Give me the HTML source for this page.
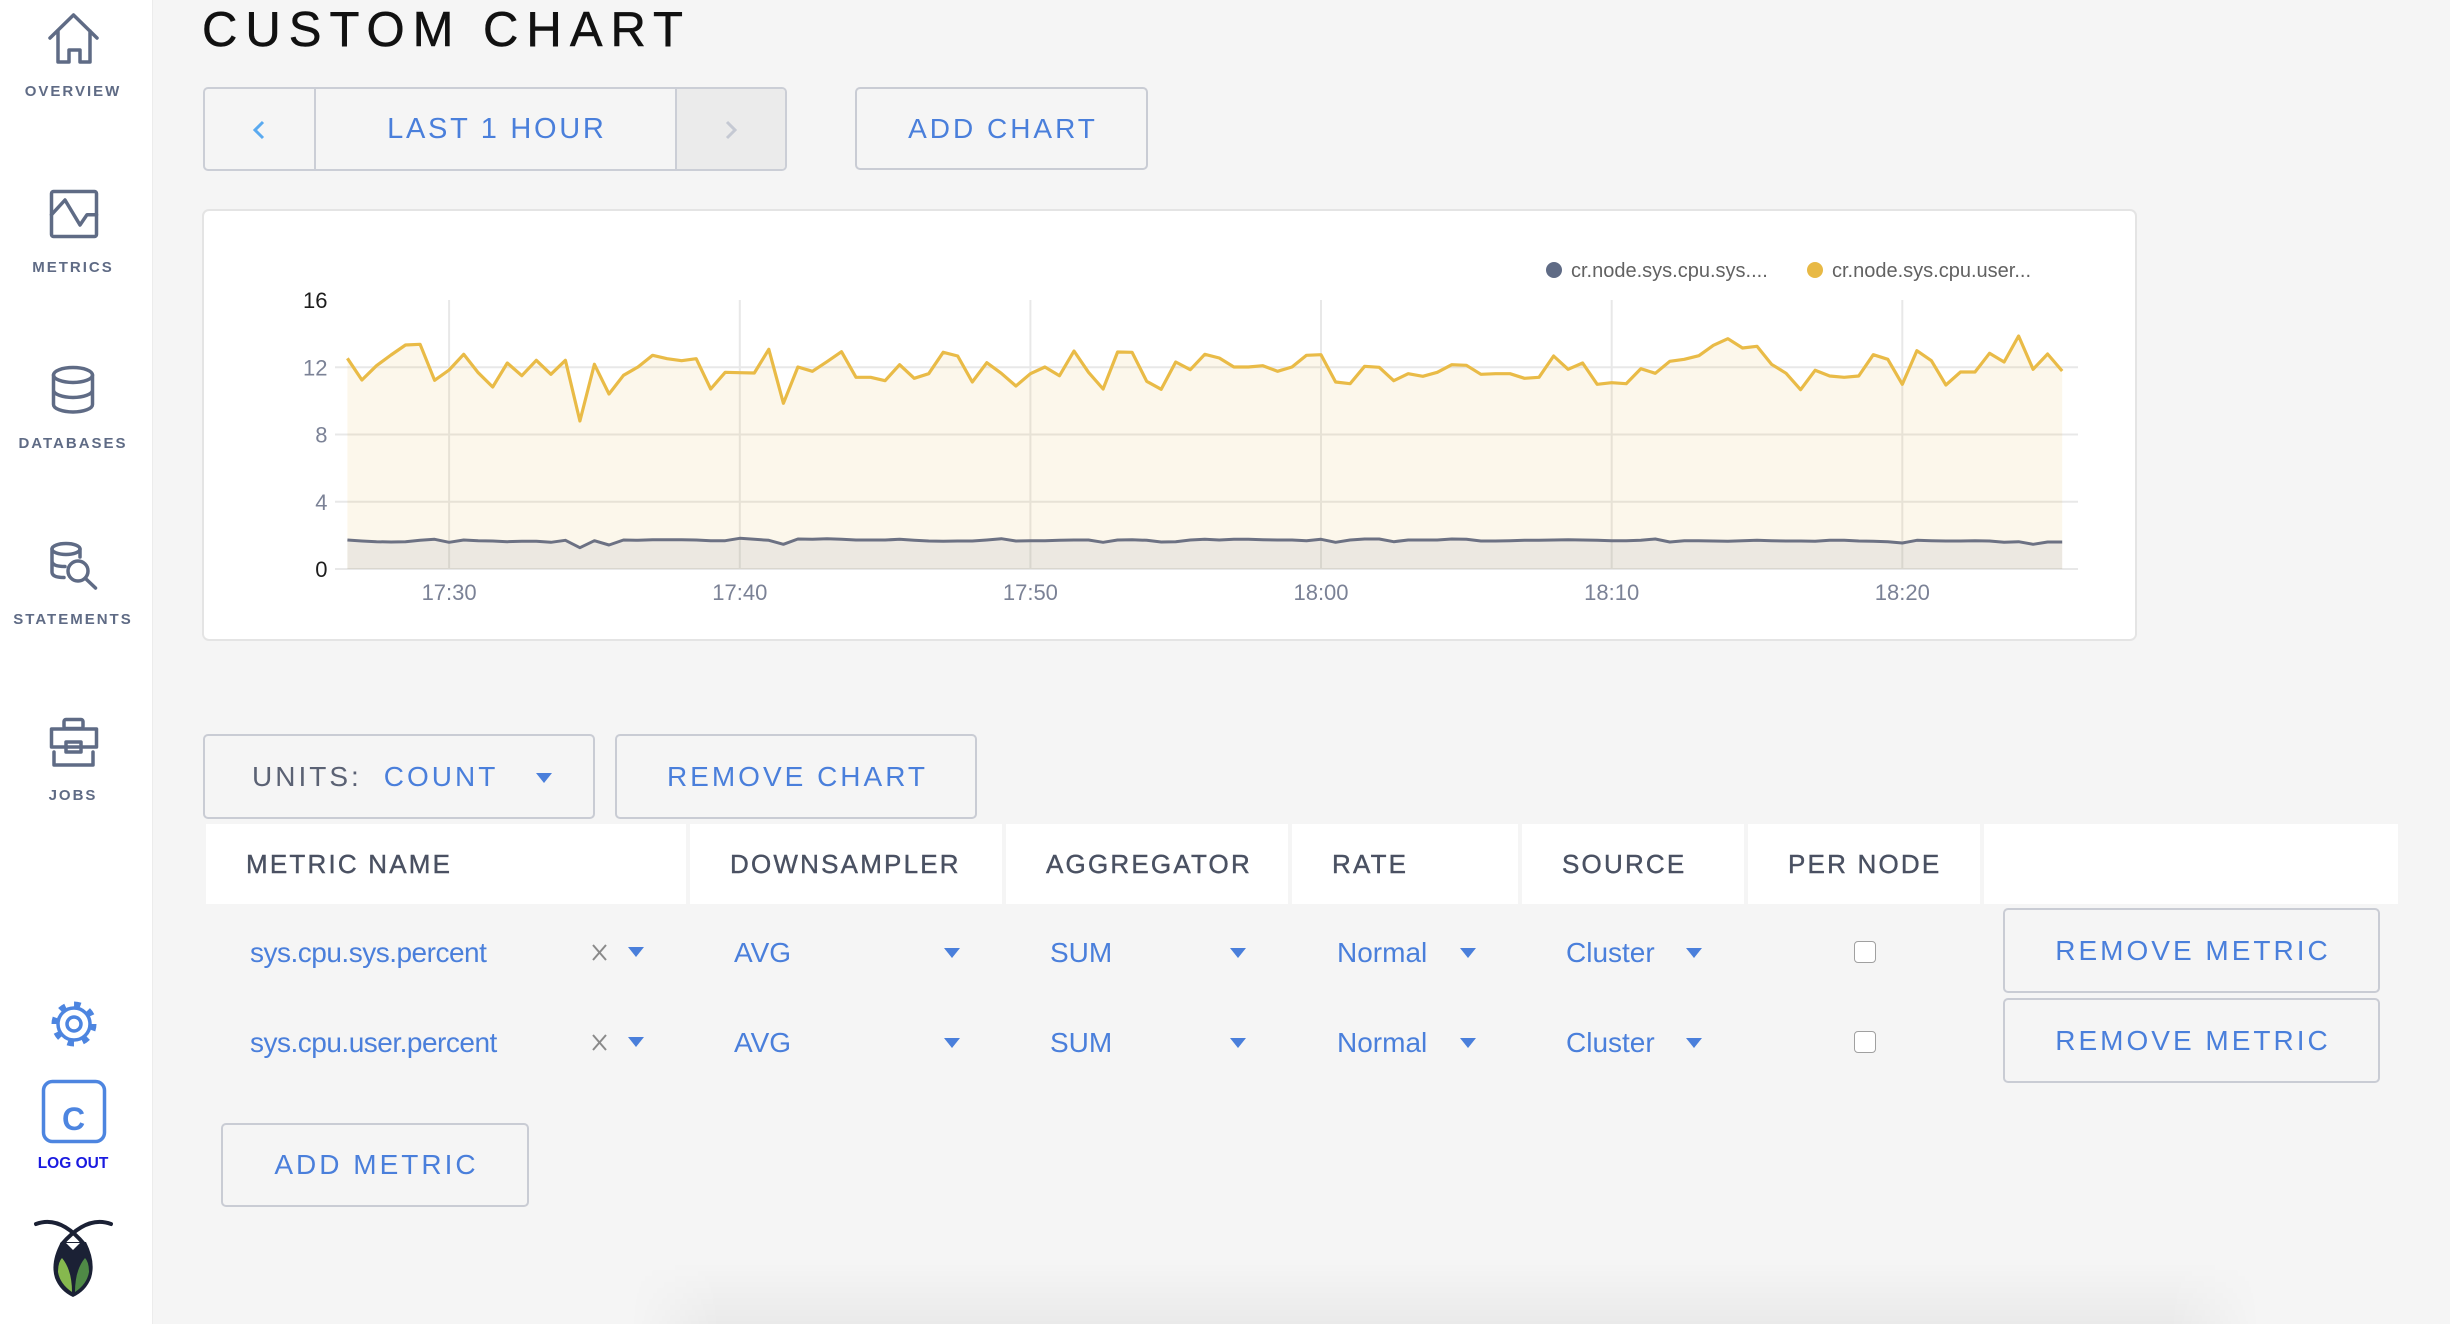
<!DOCTYPE html>
<html><head><meta charset="utf-8"><style>
*{margin:0;padding:0;box-sizing:border-box}
html,body{width:2450px;height:1324px;overflow:hidden;background:#f5f5f5;font-family:"Liberation Sans",sans-serif}
body{position:relative}
.a{position:absolute}
.nav{position:absolute;left:0;width:146px;text-align:center;font-size:15px;font-weight:bold;letter-spacing:2px;color:#5f6b85;line-height:20px;height:20px;white-space:nowrap}
.btn{position:absolute;border:2px solid #c9ccd4;border-radius:5px;display:flex;align-items:center;justify-content:center;font-size:28px;letter-spacing:3px;color:#4a7fdb;padding-left:3px;white-space:nowrap}
.hc{position:absolute;top:824px;height:80px;background:#fff;font-size:26px;letter-spacing:2.2px;color:#4a5162;line-height:80px;padding-left:40px;white-space:nowrap;-webkit-text-stroke:0.4px #4a5162}
.rt{position:absolute;font-size:28px;color:#4a7fdb;line-height:40px;height:40px;white-space:nowrap}
.cb{position:absolute;left:1854px;width:22px;height:22px;background:#fff;border:1.5px solid #a0a0a0;border-radius:4px}
</style></head><body>

<div class="a" style="left:630px;top:1262px;width:1630px;height:62px;background:linear-gradient(to bottom,rgba(0,0,0,0),rgba(0,0,0,0.045));-webkit-mask-image:linear-gradient(to right,transparent,#000 90px,#000 1540px,transparent);mask-image:linear-gradient(to right,transparent,#000 90px,#000 1540px,transparent)"></div>

<!-- sidebar -->
<div class="a" style="left:0;top:0;width:153px;height:1324px;background:#fff;border-right:1px solid #ececec"></div>
<svg class="a" style="left:0;top:0;font-family:'Liberation Sans',sans-serif" width="153" height="1324">
<g fill="none" stroke="#5f6b85" stroke-width="3.5" stroke-linejoin="round" stroke-linecap="round">
<path d="M50 38 L73.5 15 L97 38 M58 31 V62 H69 V50 H80 V62 H90 V31"/>
<rect x="51.5" y="191.5" width="45" height="45" rx="2"/>
<path d="M51.5 214.7 L65 200 L80 225 L87 214.7 H96.5"/>
<ellipse cx="73" cy="375" rx="19.5" ry="7.5"/>
<path d="M53.5 375 V404.5 A19.5 7.5 0 0 0 92.5 404.5 V375 M53.5 390 A19.5 7.5 0 0 0 92.5 390"/>
<ellipse cx="66" cy="549" rx="14" ry="5.5"/>
<path d="M52 549 V572 Q52 577.5 64 577.5 M52 561 Q52 566.5 65 566.5 M80 549 V557"/>
<circle cx="78" cy="571" r="10"/>
<path d="M85.5 578.5 L95.5 588"/>
<rect x="64" y="719.5" width="19" height="9" rx="2"/>
<path d="M51.5 747 V729 H96.5 V747 Z"/>
<path d="M54 752 V765 H93 V752"/>
<rect x="66" y="742" width="15" height="10"/>
</g>
<g fill="none" stroke="#4d85e0">
<circle cx="74" cy="1024" r="19.5" stroke-width="6" stroke-dasharray="6.5 8.8"/>
<circle cx="74" cy="1024" r="16" stroke-width="3.5"/>
<circle cx="74" cy="1024" r="7" stroke-width="3.5"/>
<rect x="43.5" y="1081.5" width="61" height="60" rx="9" stroke-width="3.5"/>
</g>
<text x="73.5" y="1130" font-size="32" font-weight="bold" fill="#4d85e0" text-anchor="middle">C</text>
<text x="73" y="1168" font-size="15.5" font-weight="bold" fill="#1a1ae0" text-anchor="middle">LOG OUT</text>
<path d="M36 1224 Q60 1215 84 1244 M111 1224 Q87 1215 62 1244" stroke="#1b2135" stroke-width="4" fill="none" stroke-linecap="round"/>
<path d="M61 1242 H86 Q96 1262 91 1278 Q86 1291 73 1297 Q60 1291 55 1278 Q50 1262 61 1242 Z" fill="#1b2135"/>
<path d="M66 1243 H80 L73 1250 Z" fill="#fff"/>
<path d="M62 1258 Q72 1270 72 1292 Q60 1284 58 1272 Q58 1262 62 1258 Z" fill="#86b94e"/>
<path d="M85 1258 Q75 1270 75 1292 Q87 1284 89 1272 Q89 1262 85 1258 Z" fill="#4f8a46"/>
</svg>
<div class="nav" style="top:82px">OVERVIEW</div>
<div class="nav" style="top:258px">METRICS</div>
<div class="nav" style="top:434px">DATABASES</div>
<div class="nav" style="top:610px">STATEMENTS</div>
<div class="nav" style="top:786px">JOBS</div>

<!-- title -->
<div class="a" style="left:202px;top:6px;font-size:49px;line-height:49px;letter-spacing:8px;color:#111;white-space:nowrap;-webkit-text-stroke:0.5px #111">CUSTOM CHART</div>

<!-- time range -->
<div class="a" style="left:203px;top:87px;width:584px;height:84px;border:2px solid #cbced6;border-radius:5px;overflow:hidden">
 <div class="a" style="left:109px;top:0;width:2px;height:80px;background:#cbced6"></div>
 <div class="a" style="left:470px;top:0;width:110px;height:80px;background:#ebebeb;border-left:2px solid #cbced6"></div>
 <div class="a" style="left:111px;top:0;width:359px;height:80px;line-height:80px;text-align:center;font-size:29px;letter-spacing:2.7px;color:#4a7fdb;padding-left:2.7px;white-space:nowrap">LAST 1 HOUR</div>
</div>
<div class="btn" style="left:855px;top:87px;width:293px;height:83px">ADD CHART</div>

<!-- chart card -->
<div class="a" style="left:202px;top:209px;width:1935px;height:432px;background:#fff;border:2px solid #e4e4e4;border-radius:7px"></div>

<!-- controls -->
<div class="btn" style="left:203px;top:734px;width:392px;height:85px;justify-content:flex-start;padding-left:47px"><span style="color:#5b6274">UNITS:</span><span style="margin-left:22px">COUNT</span></div>
<div class="btn" style="left:615px;top:734px;width:362px;height:85px">REMOVE CHART</div>

<div class="hc" style="left:206px;width:480px">METRIC NAME</div>
<div class="hc" style="left:690px;width:312px">DOWNSAMPLER</div>
<div class="hc" style="left:1006px;width:282px">AGGREGATOR</div>
<div class="hc" style="left:1292px;width:226px">RATE</div>
<div class="hc" style="left:1522px;width:222px">SOURCE</div>
<div class="hc" style="left:1748px;width:232px">PER NODE</div>
<div class="hc" style="left:1984px;width:414px"></div>

<div class="rt" style="left:250px;top:933px;letter-spacing:-0.5px">sys.cpu.sys.percent</div>
<div class="rt" style="left:250px;top:1023px;letter-spacing:-0.5px">sys.cpu.user.percent</div>
<div class="rt" style="left:734px;top:933px">AVG</div>
<div class="rt" style="left:734px;top:1023px">AVG</div>
<div class="rt" style="left:1050px;top:933px">SUM</div>
<div class="rt" style="left:1050px;top:1023px">SUM</div>
<div class="rt" style="left:1337px;top:933px">Normal</div>
<div class="rt" style="left:1337px;top:1023px">Normal</div>
<div class="rt" style="left:1566px;top:933px">Cluster</div>
<div class="rt" style="left:1566px;top:1023px">Cluster</div>
<div class="cb" style="top:941px"></div>
<div class="cb" style="top:1031px"></div>
<div class="btn" style="left:2003px;top:908px;width:377px;height:85px">REMOVE METRIC</div>
<div class="btn" style="left:2003px;top:998px;width:377px;height:85px">REMOVE METRIC</div>
<div class="btn" style="left:221px;top:1123px;width:308px;height:84px">ADD METRIC</div>

<!-- vector overlay -->
<svg class="a" style="left:0;top:0;font-family:'Liberation Sans',sans-serif" width="2450" height="1324">
<g stroke="#e8e8e8" stroke-width="2">
<line x1="335" y1="367.25" x2="2078" y2="367.25"/>
<line x1="335" y1="434.5" x2="2078" y2="434.5"/>
<line x1="335" y1="501.75" x2="2078" y2="501.75"/>
<line x1="335" y1="569" x2="2078" y2="569"/>
<line x1="449.1" y1="300" x2="449.1" y2="569"/>
<line x1="739.8" y1="300" x2="739.8" y2="569"/>
<line x1="1030.4" y1="300" x2="1030.4" y2="569"/>
<line x1="1321" y1="300" x2="1321" y2="569"/>
<line x1="1611.7" y1="300" x2="1611.7" y2="569"/>
<line x1="1902.3" y1="300" x2="1902.3" y2="569"/>
</g>
<path fill="#e8b945" fill-opacity="0.11" d="M347.4,569 L347.4,358.3 361.9,380.0 376.5,365.7 391.0,355.0 405.5,345.0 420.1,344.3 434.6,380.3 449.1,370.0 463.7,354.3 478.2,372.7 492.7,387.0 507.3,363.0 521.8,375.7 536.3,360.3 550.9,374.3 565.4,360.3 579.9,421.0 594.4,364.3 609.0,394.0 623.5,375.3 638.0,367.0 652.6,355.3 667.1,358.7 681.6,360.7 696.2,358.7 710.7,389.0 725.2,372.3 739.8,372.7 754.3,373.0 768.8,349.3 783.4,403.3 797.9,367.0 812.4,371.3 827.0,361.7 841.5,351.7 856.0,377.3 870.6,377.3 885.1,380.7 899.6,364.7 914.2,378.3 928.7,373.7 943.2,352.3 957.7,356.0 972.3,382.0 986.8,362.7 1001.3,373.3 1015.9,386.0 1030.4,373.7 1044.9,367.0 1059.5,375.7 1074.0,351.0 1088.5,372.3 1103.1,389.0 1117.6,352.0 1132.1,352.3 1146.7,381.3 1161.2,389.3 1175.7,362.0 1190.3,369.7 1204.8,354.3 1219.3,358.0 1233.9,367.0 1248.4,367.0 1262.9,365.7 1277.5,371.3 1292.0,367.0 1306.5,355.3 1321.0,354.7 1335.6,382.0 1350.1,383.7 1364.6,366.3 1379.2,367.3 1393.7,380.7 1408.2,373.7 1422.8,376.3 1437.3,372.3 1451.8,364.7 1466.4,365.3 1480.9,374.3 1495.4,373.7 1510.0,373.7 1524.5,378.3 1539.0,377.3 1553.6,356.0 1568.1,369.3 1582.6,363.0 1597.2,384.3 1611.7,382.7 1626.2,383.7 1640.8,368.7 1655.3,373.3 1669.8,361.3 1684.3,359.3 1698.9,355.7 1713.4,345.3 1727.9,338.7 1742.5,348.0 1757.0,346.3 1771.5,364.3 1786.1,373.3 1800.6,389.7 1815.1,370.3 1829.7,376.0 1844.2,377.3 1858.7,376.0 1873.3,354.7 1887.8,359.3 1902.3,384.3 1916.9,350.7 1931.4,360.7 1945.9,385.0 1960.5,372.0 1975.0,372.0 1989.5,353.3 2004.1,362.0 2018.6,336.0 2033.1,369.3 2047.6,354.0 2062.2,371.0 L2062.2,569 Z"/>
<path fill="#5f6b85" fill-opacity="0.1" d="M347.4,569 L347.4,540.0 361.9,541.0 376.5,541.7 391.0,542.0 405.5,541.7 420.1,540.3 434.6,539.3 449.1,542.3 463.7,540.0 478.2,540.7 492.7,541.0 507.3,541.7 521.8,541.3 536.3,541.3 550.9,542.3 565.4,540.3 579.9,547.7 594.4,540.7 609.0,545.0 623.5,540.0 638.0,540.3 652.6,539.7 667.1,539.7 681.6,539.7 696.2,540.0 710.7,540.7 725.2,540.7 739.8,538.3 754.3,539.3 768.8,540.3 783.4,544.3 797.9,539.0 812.4,539.3 827.0,538.7 841.5,539.3 856.0,540.0 870.6,540.0 885.1,540.0 899.6,539.3 914.2,540.3 928.7,541.0 943.2,541.3 957.7,541.0 972.3,541.0 986.8,540.0 1001.3,538.7 1015.9,541.0 1030.4,540.7 1044.9,540.7 1059.5,540.3 1074.0,540.0 1088.5,540.0 1103.1,542.3 1117.6,540.0 1132.1,539.7 1146.7,540.3 1161.2,542.0 1175.7,541.7 1190.3,540.0 1204.8,539.3 1219.3,540.0 1233.9,539.3 1248.4,539.3 1262.9,539.7 1277.5,540.0 1292.0,540.0 1306.5,540.7 1321.0,539.3 1335.6,542.3 1350.1,540.0 1364.6,539.0 1379.2,539.0 1393.7,541.7 1408.2,540.0 1422.8,540.0 1437.3,540.0 1451.8,539.0 1466.4,539.3 1480.9,541.0 1495.4,541.0 1510.0,540.7 1524.5,540.3 1539.0,540.3 1553.6,540.0 1568.1,539.7 1582.6,540.0 1597.2,540.3 1611.7,540.7 1626.2,540.7 1640.8,540.3 1655.3,539.0 1669.8,542.0 1684.3,540.7 1698.9,540.7 1713.4,541.0 1727.9,541.3 1742.5,540.7 1757.0,540.3 1771.5,540.7 1786.1,541.0 1800.6,541.0 1815.1,541.3 1829.7,540.3 1844.2,540.3 1858.7,541.0 1873.3,541.3 1887.8,541.7 1902.3,543.0 1916.9,540.3 1931.4,540.7 1945.9,541.0 1960.5,541.0 1975.0,540.7 1989.5,541.0 2004.1,542.3 2018.6,541.7 2033.1,544.3 2047.6,542.0 2062.2,542.0 L2062.2,569 Z"/>
<polyline fill="none" stroke="#e9bb47" stroke-width="3.2" stroke-linejoin="round" points="347.4,358.3 361.9,380.0 376.5,365.7 391.0,355.0 405.5,345.0 420.1,344.3 434.6,380.3 449.1,370.0 463.7,354.3 478.2,372.7 492.7,387.0 507.3,363.0 521.8,375.7 536.3,360.3 550.9,374.3 565.4,360.3 579.9,421.0 594.4,364.3 609.0,394.0 623.5,375.3 638.0,367.0 652.6,355.3 667.1,358.7 681.6,360.7 696.2,358.7 710.7,389.0 725.2,372.3 739.8,372.7 754.3,373.0 768.8,349.3 783.4,403.3 797.9,367.0 812.4,371.3 827.0,361.7 841.5,351.7 856.0,377.3 870.6,377.3 885.1,380.7 899.6,364.7 914.2,378.3 928.7,373.7 943.2,352.3 957.7,356.0 972.3,382.0 986.8,362.7 1001.3,373.3 1015.9,386.0 1030.4,373.7 1044.9,367.0 1059.5,375.7 1074.0,351.0 1088.5,372.3 1103.1,389.0 1117.6,352.0 1132.1,352.3 1146.7,381.3 1161.2,389.3 1175.7,362.0 1190.3,369.7 1204.8,354.3 1219.3,358.0 1233.9,367.0 1248.4,367.0 1262.9,365.7 1277.5,371.3 1292.0,367.0 1306.5,355.3 1321.0,354.7 1335.6,382.0 1350.1,383.7 1364.6,366.3 1379.2,367.3 1393.7,380.7 1408.2,373.7 1422.8,376.3 1437.3,372.3 1451.8,364.7 1466.4,365.3 1480.9,374.3 1495.4,373.7 1510.0,373.7 1524.5,378.3 1539.0,377.3 1553.6,356.0 1568.1,369.3 1582.6,363.0 1597.2,384.3 1611.7,382.7 1626.2,383.7 1640.8,368.7 1655.3,373.3 1669.8,361.3 1684.3,359.3 1698.9,355.7 1713.4,345.3 1727.9,338.7 1742.5,348.0 1757.0,346.3 1771.5,364.3 1786.1,373.3 1800.6,389.7 1815.1,370.3 1829.7,376.0 1844.2,377.3 1858.7,376.0 1873.3,354.7 1887.8,359.3 1902.3,384.3 1916.9,350.7 1931.4,360.7 1945.9,385.0 1960.5,372.0 1975.0,372.0 1989.5,353.3 2004.1,362.0 2018.6,336.0 2033.1,369.3 2047.6,354.0 2062.2,371.0"/>
<polyline fill="none" stroke="#6c7183" stroke-width="3" stroke-linejoin="round" points="347.4,540.0 361.9,541.0 376.5,541.7 391.0,542.0 405.5,541.7 420.1,540.3 434.6,539.3 449.1,542.3 463.7,540.0 478.2,540.7 492.7,541.0 507.3,541.7 521.8,541.3 536.3,541.3 550.9,542.3 565.4,540.3 579.9,547.7 594.4,540.7 609.0,545.0 623.5,540.0 638.0,540.3 652.6,539.7 667.1,539.7 681.6,539.7 696.2,540.0 710.7,540.7 725.2,540.7 739.8,538.3 754.3,539.3 768.8,540.3 783.4,544.3 797.9,539.0 812.4,539.3 827.0,538.7 841.5,539.3 856.0,540.0 870.6,540.0 885.1,540.0 899.6,539.3 914.2,540.3 928.7,541.0 943.2,541.3 957.7,541.0 972.3,541.0 986.8,540.0 1001.3,538.7 1015.9,541.0 1030.4,540.7 1044.9,540.7 1059.5,540.3 1074.0,540.0 1088.5,540.0 1103.1,542.3 1117.6,540.0 1132.1,539.7 1146.7,540.3 1161.2,542.0 1175.7,541.7 1190.3,540.0 1204.8,539.3 1219.3,540.0 1233.9,539.3 1248.4,539.3 1262.9,539.7 1277.5,540.0 1292.0,540.0 1306.5,540.7 1321.0,539.3 1335.6,542.3 1350.1,540.0 1364.6,539.0 1379.2,539.0 1393.7,541.7 1408.2,540.0 1422.8,540.0 1437.3,540.0 1451.8,539.0 1466.4,539.3 1480.9,541.0 1495.4,541.0 1510.0,540.7 1524.5,540.3 1539.0,540.3 1553.6,540.0 1568.1,539.7 1582.6,540.0 1597.2,540.3 1611.7,540.7 1626.2,540.7 1640.8,540.3 1655.3,539.0 1669.8,542.0 1684.3,540.7 1698.9,540.7 1713.4,541.0 1727.9,541.3 1742.5,540.7 1757.0,540.3 1771.5,540.7 1786.1,541.0 1800.6,541.0 1815.1,541.3 1829.7,540.3 1844.2,540.3 1858.7,541.0 1873.3,541.3 1887.8,541.7 1902.3,543.0 1916.9,540.3 1931.4,540.7 1945.9,541.0 1960.5,541.0 1975.0,540.7 1989.5,541.0 2004.1,542.3 2018.6,541.7 2033.1,544.3 2047.6,542.0 2062.2,542.0"/>
<g font-size="22" text-anchor="end">
<text x="327.5" y="308" fill="#1d1d1d">16</text>
<text x="327.5" y="375.3" fill="#7b8296">12</text>
<text x="327.5" y="442.5" fill="#7b8296">8</text>
<text x="327.5" y="509.8" fill="#7b8296">4</text>
<text x="327.5" y="577" fill="#1d1d1d">0</text>
</g>
<g font-size="22" text-anchor="middle" fill="#7b8296">
<text x="449.1" y="600">17:30</text>
<text x="739.8" y="600">17:40</text>
<text x="1030.4" y="600">17:50</text>
<text x="1321" y="600">18:00</text>
<text x="1611.7" y="600">18:10</text>
<text x="1902.3" y="600">18:20</text>
</g>
<circle cx="1554" cy="270" r="8" fill="#5f6b85"/>
<circle cx="1815" cy="270" r="8" fill="#e8b945"/>
<g font-size="20" fill="#626262">
<text x="1571" y="277">cr.node.sys.cpu.sys....</text>
<text x="1832" y="277">cr.node.sys.cpu.user...</text>
</g>
<polyline points="263,122 255,130 263,138" fill="none" stroke="#5aaaf0" stroke-width="3"/>
<polyline points="727,122 735,130 727,138" fill="none" stroke="#c5c9d3" stroke-width="3"/>
<g fill="#4a7fdb">
<polygon points="536,773 552,773 544,783"/>
<polygon points="628,947 644,947 636,957"/>
<polygon points="944,948 960,948 952,958"/>
<polygon points="1230,948 1246,948 1238,958"/>
<polygon points="1460,948 1476,948 1468,958"/>
<polygon points="1686,948 1702,948 1694,958"/>
<polygon points="628,1037 644,1037 636,1047"/>
<polygon points="944,1038 960,1038 952,1048"/>
<polygon points="1230,1038 1246,1038 1238,1048"/>
<polygon points="1460,1038 1476,1038 1468,1048"/>
<polygon points="1686,1038 1702,1038 1694,1048"/>
</g>
<g stroke="#8a8a8a" stroke-width="2">
<line x1="593" y1="945" x2="606" y2="960"/><line x1="606" y1="945" x2="593" y2="960"/>
<line x1="593" y1="1035" x2="606" y2="1050"/><line x1="606" y1="1035" x2="593" y2="1050"/>
</g>
</svg>
</body></html>
